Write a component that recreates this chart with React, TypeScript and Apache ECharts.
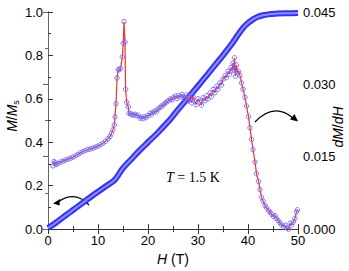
import React, { useEffect, useRef } from "react";
import * as echarts from "echarts";

// Magnetization M/Ms vs H (T)
const magH = [0, 1, 2, 3, 4, 5, 6, 7, 8, 9, 10, 11, 12, 13, 13.5, 14, 14.5, 15, 15.5, 16, 17, 18, 20, 22, 24, 26, 28, 30, 32, 34, 35, 36, 37, 38, 39, 40, 41, 42, 43, 44, 45, 46, 48, 50];
const magM = [0.005, 0.02, 0.037, 0.054, 0.071, 0.088, 0.105, 0.122, 0.139, 0.156, 0.172, 0.188, 0.204, 0.22, 0.231, 0.247, 0.265, 0.281, 0.294, 0.306, 0.33, 0.355, 0.4, 0.445, 0.494, 0.55, 0.604, 0.659, 0.715, 0.772, 0.8, 0.83, 0.861, 0.895, 0.926, 0.949, 0.966, 0.978, 0.985, 0.989, 0.991, 0.993, 0.994, 0.995];

// Derivative dM/dH vs H (T)
const derH = [1.0, 1.2, 1.4, 1.6, 2.0, 2.5, 3.0, 3.5, 4.0, 4.5, 5.0, 5.5, 6.0, 6.5, 7.0, 7.5, 8.0, 8.5, 9.0, 9.5, 10.0, 10.5, 11.0, 11.5, 12.0, 12.4, 12.7, 13.0, 13.26, 13.4, 13.6, 13.8, 14.06, 14.2, 14.54, 14.86, 15.06, 15.2, 15.4, 15.52, 15.74, 16.06, 16.2, 16.5, 16.74, 17.0, 17.4, 17.7, 18.06, 18.4, 18.7, 19.0, 19.3, 19.6, 20.0, 20.4, 20.7, 21.0, 21.4, 21.7, 22.0, 22.4, 22.7, 23.1, 23.4, 23.8, 24.1, 24.5, 24.8, 25.1, 25.5, 25.8, 26.1, 26.5, 26.8, 27.1, 27.4, 27.7, 28.0, 28.3, 28.7, 29.0, 29.3, 29.6, 30.0, 30.4, 30.7, 31.0, 31.4, 31.7, 32.0, 32.4, 32.7, 33.0, 33.4, 33.7, 34.0, 34.4, 34.7, 35.0, 35.4, 35.7, 36.0, 36.3, 36.6, 36.8, 37.0, 37.2, 37.3, 37.5, 37.7, 37.9, 38.1, 38.4, 38.7, 39.0, 39.4, 39.7, 40.1, 40.4, 40.7, 41.0, 41.4, 41.7, 42.1, 42.4, 42.7, 43.0, 43.4, 43.7, 44.1, 44.4, 44.7, 45.1, 45.4, 45.7, 46.0, 46.4, 46.7, 47.1, 47.4, 47.8, 48.1, 48.4, 48.7, 49.1, 49.4, 49.7, 49.9];
const derD = [0.0131, 0.014, 0.0137, 0.0134, 0.0136, 0.0139, 0.0141, 0.0143, 0.0145, 0.0147, 0.0149, 0.0152, 0.0155, 0.0158, 0.0161, 0.0163, 0.0165, 0.0166, 0.0168, 0.017, 0.0172, 0.0175, 0.0178, 0.0182, 0.0187, 0.0192, 0.0198, 0.0206, 0.0216, 0.0233, 0.026, 0.0313, 0.0331, 0.033, 0.0333, 0.0357, 0.0385, 0.043, 0.0388, 0.029, 0.0263, 0.0253, 0.024, 0.0239, 0.0238, 0.0236, 0.0238, 0.0235, 0.0236, 0.023, 0.0232, 0.0229, 0.0233, 0.0231, 0.0235, 0.024, 0.0237, 0.0242, 0.0245, 0.0243, 0.0249, 0.0252, 0.0255, 0.0257, 0.0261, 0.0264, 0.0266, 0.027, 0.0268, 0.0273, 0.0276, 0.0271, 0.0277, 0.0274, 0.0279, 0.0275, 0.027, 0.0278, 0.0266, 0.0272, 0.0262, 0.0275, 0.0265, 0.0258, 0.027, 0.0263, 0.0257, 0.0272, 0.0266, 0.0276, 0.027, 0.0282, 0.0275, 0.0289, 0.0283, 0.0296, 0.029, 0.0303, 0.0299, 0.0311, 0.0318, 0.0314, 0.0327, 0.0321, 0.0335, 0.0328, 0.0344, 0.033, 0.0355, 0.0317, 0.034, 0.0325, 0.0327, 0.0318, 0.0303, 0.029, 0.0273, 0.0255, 0.0233, 0.021, 0.0186, 0.0165, 0.0139, 0.0115, 0.0099, 0.0082, 0.0066, 0.0058, 0.0049, 0.0044, 0.0039, 0.0035, 0.0031, 0.0026, 0.0028, 0.0022, 0.0018, 0.0013, 0.0009, 0.0005, 0.0008, 0.0002, 0.0, 0.0012, 0.0008, 0.0015, 0.0022, 0.0036, 0.004];

const xMin = 0;
const xMax = 50;
const xInterval = 10;
const leftMin = 0;
const leftMax = 1.0;
const leftInterval = 0.2;
const rightMin = 0;
const rightMax = 0.045;
const rightInterval = 0.015;

const tempLabel = "1.5 K";

export default function App() {
  const ref = useRef<HTMLDivElement>(null);

  useEffect(() => {
    if (!ref.current) return;
    const chart = echarts.init(ref.current, null, { renderer: "svg" });
    const magData = magH.map((h, i) => [h, magM[i]]);
    const derData = derH.map((h, i) => [h, derD[i]]);
    const sans = "Liberation Sans";
    const serif = "Liberation Serif";
    const axisCol = "#333";

    const tick = { show: true, inside: true, length: 5, lineStyle: { color: axisCol, width: 1 } };
    const minor = { show: true, splitNumber: 2, length: 3, lineStyle: { color: axisCol, width: 1 } };

    chart.setOption({
      animation: false,
      backgroundColor: "#fff",
      grid: { left: 48, right: 51, top: 12, bottom: 35, containLabel: false },
      xAxis: [
        {
          type: "value",
          min: xMin,
          max: xMax,
          interval: xInterval,
          position: "bottom",
          axisLine: { show: true, lineStyle: { color: axisCol, width: 1 } },
          axisTick: tick,
          minorTick: minor,
          splitLine: { show: false },
          axisLabel: { color: "#000", fontFamily: sans, fontSize: 13, margin: 5 },
          name: "{i|H} (T)",
          nameLocation: "middle",
          nameGap: 19,
          nameTextStyle: {
            color: "#000",
            fontFamily: sans,
            fontSize: 14,
            rich: { i: { fontStyle: "italic", fontFamily: sans, fontSize: 14, color: "#000" } },
          },
        },
        {
          type: "value",
          min: xMin,
          max: xMax,
          interval: xInterval,
          position: "top",
          axisLine: { show: true, lineStyle: { color: axisCol, width: 1 } },
          axisTick: tick,
          minorTick: minor,
          splitLine: { show: false },
          axisLabel: { show: false },
        },
      ],
      yAxis: [
        {
          type: "value",
          min: leftMin,
          max: leftMax,
          interval: leftInterval,
          position: "left",
          axisLine: { show: true, lineStyle: { color: axisCol, width: 1 } },
          axisTick: tick,
          minorTick: minor,
          splitLine: { show: false },
          axisLabel: {
            color: "#000",
            fontFamily: sans,
            fontSize: 13,
            margin: 5,
            formatter: (v: number) => v.toFixed(1),
          },
        },
        {
          type: "value",
          min: rightMin,
          max: rightMax,
          interval: rightInterval,
          position: "right",
          axisLine: { show: true, lineStyle: { color: "#666", width: 1 } },
          axisTick: { ...tick, lineStyle: { color: "#666", width: 1 } },
          minorTick: { ...minor, lineStyle: { color: "#666", width: 1 } },
          splitLine: { show: false },
          axisLabel: {
            color: "#000",
            fontFamily: sans,
            fontSize: 13,
            margin: 5,
            formatter: (v: number) => v.toFixed(3),
          },
        },
      ],
      series: [
        {
          type: "line",
          xAxisIndex: 0,
          yAxisIndex: 0,
          data: magData,
          smooth: 0.3,
          showSymbol: false,
          symbol: "none",
          lineStyle: { color: "#3434ee", width: 6 },
          z: 2,
        },
        {
          type: "line",
          xAxisIndex: 0,
          yAxisIndex: 0,
          data: magData,
          smooth: 0.3,
          showSymbol: false,
          symbol: "none",
          lineStyle: { color: "#8c8cff", width: 2 },
          z: 3,
        },
        {
          type: "line",
          xAxisIndex: 0,
          yAxisIndex: 1,
          data: derData,
          symbol: "circle",
          symbolSize: 4.5,
          showSymbol: true,
          showAllSymbol: true,
          lineStyle: { color: "#ff2a2a", width: 1.2 },
          itemStyle: { color: "rgba(255,255,255,0)", borderColor: "#6a6aff", borderWidth: 0.9 },
          z: 4,
        },
      ],
      graphic: [
        {
          type: "text",
          rotation: Math.PI / 2,
          x: 12,
          y: 116,
          style: {
            text: "{i|M}/{i|M}{s|s}",
            fill: "#000",
            align: "center",
            verticalAlign: "middle",
            font: "14px Liberation Sans",
            rich: {
              i: { fontStyle: "italic", fontFamily: sans, fontSize: 14, fill: "#000" },
              s: { fontFamily: sans, fontSize: 9, fill: "#000", padding: [7, 0, 0, 0] },
            },
          },
        },
        {
          type: "text",
          rotation: Math.PI / 2,
          x: 338,
          y: 127,
          style: {
            text: "{i|dM}/{i|dH}",
            fill: "#000",
            align: "center",
            verticalAlign: "middle",
            font: "14px Liberation Sans",
            rich: {
              i: { fontStyle: "italic", fontFamily: sans, fontSize: 14, fill: "#000" },
            },
          },
        },
        {
          type: "text",
          x: 166,
          y: 170,
          style: {
            text: "{i|T} = " + tempLabel,
            fill: "#000",
            font: "14px Liberation Serif",
            rich: {
              i: { fontStyle: "italic", fontFamily: serif, fontSize: 14, fill: "#000" },
            },
          },
        },
        {
          type: "bezierCurve",
          shape: { x1: 89, y1: 205, x2: 58, y2: 202, cpx1: 75, cpy1: 190 },
          style: { stroke: "#000", lineWidth: 1.2, fill: null },
        },
        {
          type: "polygon",
          shape: { points: [[53, 203.5], [60, 199], [59.5, 205.5]] },
          style: { fill: "#000" },
        },
        {
          type: "bezierCurve",
          shape: { x1: 255, y1: 122, x2: 293, y2: 118, cpx1: 274, cpy1: 102 },
          style: { stroke: "#000", lineWidth: 1.2, fill: null },
        },
        {
          type: "polygon",
          shape: { points: [[298, 121.5], [290, 119.5], [294.5, 114]] },
          style: { fill: "#000" },
        },
      ],
    });
    return () => chart.dispose();
  }, []);

  return (
    <div
      ref={ref}
      style={{ position: "absolute", left: 0, top: 0, width: 349, height: 271 }}
    />
  );
}
